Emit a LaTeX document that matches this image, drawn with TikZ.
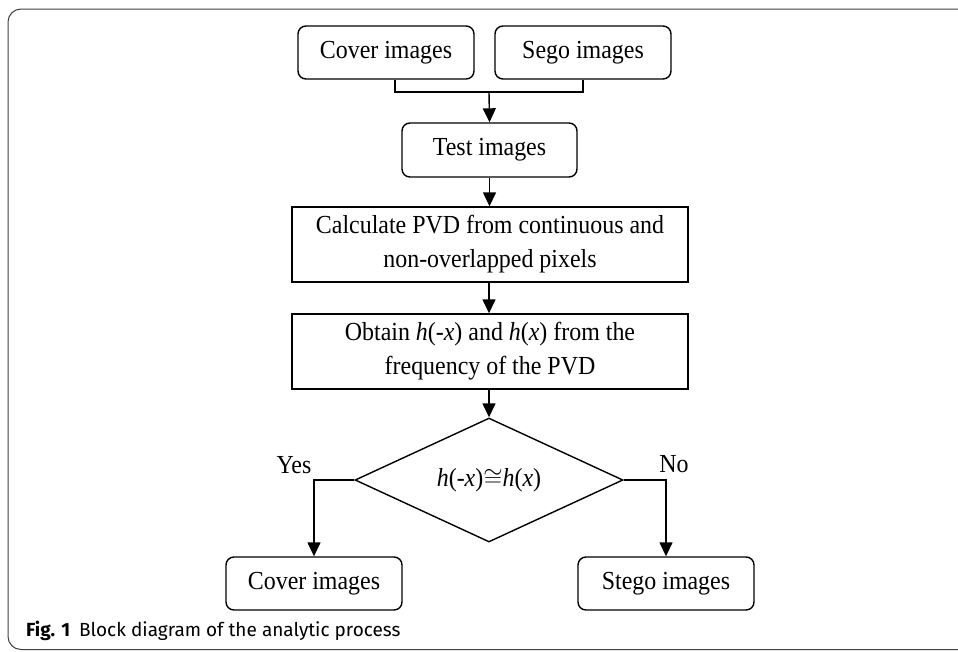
\documentclass[tikz,border=0pt]{standalone}
\usepackage{fontspec}
\setmainfont{Liberation Serif}[FakeStretch=0.92]
\newfontfamily\capfont{Fira Sans}
\usetikzlibrary{arrows.meta,shapes.geometric}
\begin{document}
\begin{tikzpicture}[x=1pt,y=-1pt,
  ln/.style={line width=1.4pt},
  box/.style={draw,ln,rounded corners=8pt,minimum width=176pt,minimum height=53pt,inner sep=0pt,font=\fontsize{26}{30}\selectfont},
  rbox/.style={draw,ln,minimum width=396pt,minimum height=75pt,inner sep=0pt,align=center,font=\fontsize{26}{34}\selectfont},
  dec/.style={draw,ln,diamond,aspect=2.16,minimum width=268pt,minimum height=124pt,inner sep=0pt,font=\fontsize{26}{30}\selectfont},
  arr/.style={ln,-{Triangle[length=14pt,width=13pt]}},
  lbl/.style={inner sep=0pt,font=\fontsize{26}{30}\selectfont}]
\useasboundingbox (0,0) rectangle (958,651);
% outer frame
\draw[line width=1pt,black!75,rounded corners=13pt] (980,9) -- (8,9) -- (8,649.5) -- (980,649.5);
% nodes
\node[box] (c1) at (386,52.5) {Cover images};
\node[box] (s1) at (583,52.5) {Sego images};
\node[box,minimum width=175pt,minimum height=54pt] (test) at (489.5,150) {Test images};
\node[rbox] (calc) at (490,244.5) {Calculate PVD from continuous and\\non-overlapped pixels};
\node[rbox] (obt) at (490,351.5) {Obtain \textit{h}(-\textit{x}) and \textit{h}(\textit{x}) from the\\frequency of the PVD};
\node[dec] (d) at (489,480) {\textit{h}(-\textit{x})$\cong$\textit{h}(\textit{x})};
\node[box] (c2) at (314,583.5) {Cover images};
\node[box] (s2) at (666,583.5) {Stego images};
\node[lbl] (yes) at (294,465) {Yes};
\node[lbl] (no) at (674,464) {No};
\node[anchor=base west,inner sep=0pt,font=\capfont\fontsize{19}{22}\selectfont] (cap) at (26,636) {\textbf{Fig. 1}\hspace{9pt}Block diagram of the analytic process};
% connectors
\coordinate (j) at (489,92);
\draw[ln] ([xshift=9pt]c1.south) |- (j) -| (s1.south);
\draw[arr] (j) -- (test.north);
\draw[arr] (test.south) -- (test.south |- calc.north);
\draw[arr] (calc.south -| d.north) -- (obt.north -| d.north);
\draw[arr] (obt.south -| d.north) -- (d.north);
\draw[arr] (d.west) -| (c2.north);
\draw[arr] (d.east) -| (s2.north);
\end{tikzpicture}
\end{document}
